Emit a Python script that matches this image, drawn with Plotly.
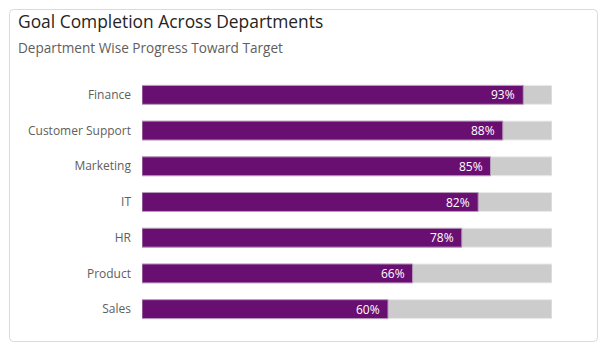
import plotly.graph_objects as go

departments = ["Finance", "Customer Support", "Marketing", "IT", "HR", "Product", "Sales"]
completion = [93, 88, 85, 82, 78, 66, 60]
target = [100, 100, 100, 100, 100, 100, 100]

W, H = 609, 352
FONT = "Segoe UI, Open Sans, sans-serif"
PURPLE = "#6A0F72"
GREY = "#CCCCCC"

fig = go.Figure()
fig.add_trace(go.Bar(
    y=departments, x=target, orientation="h",
    marker=dict(color=GREY, line=dict(color="#EBEBEB", width=1)),
    hoverinfo="skip", showlegend=False, width=0.53,
))
fig.add_trace(go.Bar(
    y=departments, x=completion, orientation="h",
    marker=dict(color=PURPLE, line=dict(color="#B89BBB", width=1)),
    showlegend=False, width=0.53,
))

for d, v in zip(departments, completion):
    fig.add_annotation(
        x=v, y=d, xref="x", yref="y", text=f"{v}%", showarrow=False,
        xanchor="right", xshift=-6, font=dict(family=FONT, size=12, color="white"),
    )

# card
x0, y0, x1, y1, r = 9.5 / W, 1 - 9.5 / H, 597.5 / W, 1 - 341.5 / H, 4
rx, ry = r / W, r / H
path = (f"M {x0+rx},{y0} L {x1-rx},{y0} Q {x1},{y0} {x1},{y0-ry} "
        f"L {x1},{y1+ry} Q {x1},{y1} {x1-rx},{y1} L {x0+rx},{y1} "
        f"Q {x0},{y1} {x0},{y1+ry} L {x0},{y0-ry} Q {x0},{y0} {x0+rx},{y0} Z")
fig.add_shape(type="path", path=path, xref="paper", yref="paper",
              line=dict(color="#DADADA", width=1), fillcolor="rgba(0,0,0,0)", layer="below")

fig.add_annotation(x=16 / W, y=1 - 21 / H, xref="paper", yref="paper", xanchor="left",
                   yanchor="middle", showarrow=False, text="Goal Completion Across Departments",
                   font=dict(family=FONT, size=17.4, color="#252423"))
fig.add_annotation(x=16 / W, y=1 - 47 / H, xref="paper", yref="paper", xanchor="left",
                   yanchor="middle", showarrow=False, text="Department Wise Progress Toward Target",
                   font=dict(family=FONT, size=13.6, color="#605E5C"))

fig.update_layout(
    width=W, height=H, margin=dict(l=0, r=0, t=0, b=0),
    barmode="overlay", plot_bgcolor="white", paper_bgcolor="white",
    xaxis=dict(domain=[142 / W, 552 / W], range=[0, 100], visible=False, fixedrange=True),
    yaxis=dict(domain=[1 - 327 / H, 1 - 77 / H], autorange="reversed",
               categoryorder="array", categoryarray=departments,
               showgrid=False, zeroline=False, showline=False, ticks="",
               ticklabelstandoff=10,
               tickfont=dict(family=FONT, size=12, color="#605E5C"), automargin=False),
    font=dict(family=FONT),
)

fig.write_html("out.html", config={"displayModeBar": False})
